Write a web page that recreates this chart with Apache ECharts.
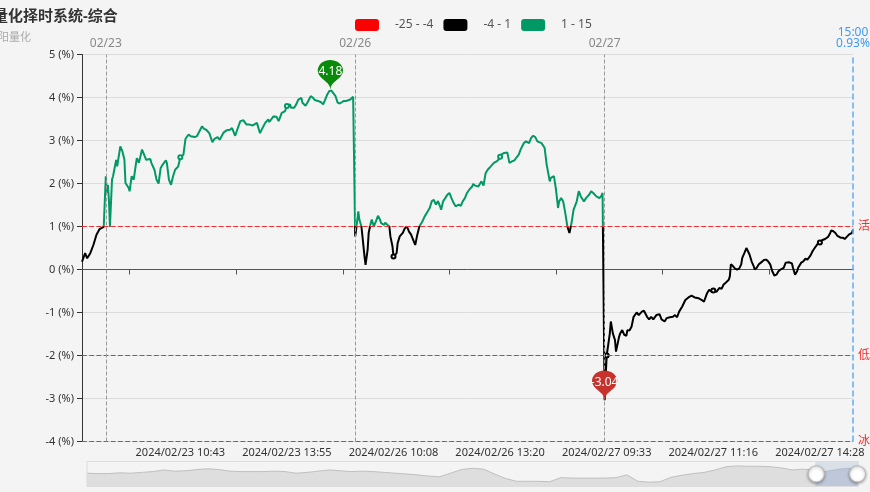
<!DOCTYPE html>
<html><head><meta charset="utf-8">
<script src="https://cdn.jsdelivr.net/npm/echarts@6/dist/echarts.min.js"></script>
<style>html,body{margin:0;padding:0;background:#f4f4f4;}#c{width:870px;height:492px;}</style>
</head><body><div id="c"></div>
<script>
// ---------- data ----------
const titleText = '量化择时系统-综合';
const subText = '阳量化';
const tradeDays = ['2024/02/22', '2024/02/23', '2024/02/26', '2024/02/27'];
const preDayCount = 23;                 // trailing minutes of 2024/02/22 in view
const morningSession = ['09:31', '11:30'];
const afternoonSession = ['13:00', '15:00'];
const firstLabel = '2024/02/23 10:43';
const labelStep = 103;
const tickLead = 49;
const yMin = -4, yMax = 5, yStep = 1;
const pieces = [
  { min: -25, max: -4, color: '#ff0000' },
  { min: -4, max: 1, color: '#000000' },
  { min: 1, max: 15, color: '#009966' }
];
const levelLines = [
  { value: 1, name: '活跃' },
  { value: -2, name: '低迷' },
  { value: -4, name: '冰点' }
];
// [minute offset, value %]
const pre0222 = [[0,0.18],[3,0.38],[5,0.26],[8,0.38],[11,0.57],[14,0.81],[17,0.94],[21,0.99],[22,1.0]];
const day0223 = [[0,2.17],[1,1.78],[2,1.97],[3,1.62],[4,1.0],[6,2.09],[7,2.17],[10,2.55],[11,2.40],[14,2.86],[16,2.75],[18,2.55],[19,2.01],[22,1.90],[23,1.82],[25,2.17],[27,2.09],[29,2.44],[30,2.59],[32,2.48],[35,2.79],[37,2.67],[39,2.55],[43,2.57],[44,2.48],[47,2.32],[49,2.09],[51,2.0],[53,2.36],[55,2.44],[58,2.54],[59,2.48],[61,2.09],[63,1.97],[65,2.17],[67,2.32],[70,2.40],[72,2.61],[75,2.67],[77,3.04],[80,3.14],[82,3.10],[83,3.06],[86,3.08],[88,3.10],[90,3.19],[93,3.33],[95,3.27],[97,3.25],[100,3.17],[103,2.96],[105,3.04],[108,3.08],[110,3.02],[114,3.19],[117,3.24],[120,3.25],[122,3.29],[125,3.11],[127,3.25],[130,3.45],[133,3.47],[136,3.37],[139,3.37],[142,3.35],[146,3.41],[149,3.17],[151,3.27],[154,3.41],[157,3.49],[158,3.43],[162,3.56],[165,3.55],[167,3.45],[170,3.64],[173,3.68],[175,3.80],[178,3.84],[179,3.76],[182,3.76],[184,3.84],[186,3.95],[189,3.99],[190,3.88],[193,3.81],[195,3.89],[198,4.03],[200,4.0],[202,3.94],[205,3.92],[208,3.89],[210,3.84],[212,3.95],[214,4.07],[216,4.15],[217,4.18],[218,4.16],[219,4.12],[222,4.03],[224,3.88],[226,3.86],[228,3.89],[230,3.92],[232,3.92],[235,3.94],[237,3.97],[239,4.02],[240,4.03]];
const day0226 = [[0,0.77],[1,0.95],[3,1.35],[4,1.16],[6,1.0],[7,0.77],[9,0.30],[10,0.11],[12,0.46],[13,0.85],[15,1.08],[16,1.16],[18,1.0],[20,1.12],[22,1.25],[24,1.16],[25,1.08],[28,1.04],[29,1.09],[31,1.04],[33,1.0],[34,0.77],[36,0.54],[37,0.30],[38,0.26],[40,0.38],[41,0.61],[43,0.77],[46,0.85],[48,0.96],[50,1.0],[52,0.88],[54,0.81],[56,0.69],[58,0.57],[60,0.81],[62,1.0],[65,1.12],[67,1.23],[70,1.35],[72,1.43],[74,1.59],[76,1.62],[78,1.51],[80,1.59],[82,1.47],[83,1.39],[85,1.59],[87,1.66],[89,1.74],[91,1.78],[93,1.66],[95,1.55],[97,1.47],[100,1.51],[102,1.48],[104,1.59],[106,1.66],[108,1.78],[110,1.85],[113,1.93],[114,1.99],[116,1.95],[119,1.93],[122,2.05],[124,1.95],[126,2.24],[128,2.32],[131,2.40],[134,2.48],[137,2.52],[139,2.57],[140,2.62],[141,2.67],[144,2.71],[147,2.72],[149,2.48],[152,2.52],[154,2.54],[156,2.61],[158,2.67],[160,2.80],[163,2.94],[165,2.98],[168,2.94],[170,3.06],[172,3.11],[174,3.08],[176,2.98],[180,2.94],[183,2.83],[185,2.44],[188,2.05],[189,2.13],[192,2.17],[194,1.86],[196,1.43],[197,1.58],[199,1.66],[201,1.58],[203,1.31],[205,1.00],[207,0.85],[209,1.08],[211,1.39],[214,1.58],[216,1.82],[218,1.70],[221,1.58],[223,1.66],[226,1.74],[228,1.82],[230,1.78],[233,1.70],[236,1.66],[238,1.72],[239,1.78],[240,1.74]];
const day0227 = [[0,-3.04],[1,-2.5],[2,-2.0],[5,-1.49],[6,-1.21],[8,-1.49],[10,-1.64],[11,-1.91],[12,-1.95],[14,-1.56],[15,-1.49],[17,-1.41],[19,-1.52],[21,-1.54],[22,-1.41],[24,-1.42],[26,-1.33],[28,-1.10],[31,-1.00],[33,-1.06],[36,-0.98],[38,-0.96],[41,-1.10],[43,-1.16],[45,-1.10],[47,-1.16],[50,-1.06],[53,-1.04],[55,-1.16],[58,-1.21],[60,-1.13],[63,-1.11],[66,-1.10],[68,-1.06],[70,-1.11],[72,-0.98],[75,-0.86],[78,-0.71],[81,-0.65],[84,-0.61],[87,-0.65],[91,-0.67],[94,-0.71],[96,-0.75],[99,-0.55],[101,-0.47],[103,-0.51],[105,-0.49],[108,-0.52],[111,-0.43],[113,-0.45],[115,-0.35],[117,-0.31],[120,-0.24],[121,-0.16],[122,0.12],[124,0.08],[126,0.02],[128,0.0],[130,0.02],[132,0.12],[133,0.27],[135,0.38],[137,0.50],[138,0.47],[140,0.35],[142,0.19],[144,0.08],[145,0.0],[147,0.04],[149,0.12],[151,0.16],[154,0.22],[156,0.23],[158,0.19],[160,0.12],[162,-0.04],[164,-0.14],[166,-0.12],[168,-0.04],[170,0.0],[173,0.04],[175,0.16],[178,0.17],[181,0.14],[182,0.04],[184,-0.12],[186,-0.04],[187,0.04],[190,0.16],[192,0.19],[194,0.25],[196,0.23],[199,0.33],[201,0.43],[203,0.50],[206,0.60],[208,0.63],[210,0.68],[211,0.70],[213,0.71],[216,0.76],[218,0.85],[219,0.91],[221,0.89],[223,0.85],[225,0.78],[228,0.74],[230,0.74],[232,0.71],[234,0.76],[236,0.81],[237,0.85],[239,0.85],[240,0.93]];
// longer history shown only as the slider's data shadow
const shadowValues = [2.2,2.1,2.1,2.3,2.2,2.4,2.6,3.0,2.7,2.8,3.1,3.3,3.1,2.7,2.6,2.6,2.6,2.7,2.6,2.2,2.4,2.7,3.0,2.8,2.6,2.7,2.6,2.4,2.2,2.0,1.8,1.5,1.3,2.2,3.1,3.4,3.2,2.0,0.9,0.2,0.2,0.2,0.1,1.1,1.0,1.0,1.0,1.0,1.1,1.8,0.2,0.0,0.1,1.2,1.7,2.1,2.4,3.0,3.8,4.0,3.9,3.9,3.8,3.5,3.0,3.2,2.9,2.6,3.1,3.4,3.0];
const zoomStart = 94.4, zoomEnd = 100;

// ---------- build ----------
function toMin(t){const [h,m]=t.split(':').map(Number);return h*60+m;}
function fmt(m){return String(Math.floor(m/60)).padStart(2,'0')+':'+String(m%60).padStart(2,'0');}
function session(a,b){const r=[];for(let m=toMin(a);m<=toMin(b);m++)r.push(fmt(m));return r;}
const dayTimes = session(...morningSession).concat(session(...afternoonSession));
const categories = [];
tradeDays.forEach((d,k)=>{
  const times = k===0 ? dayTimes.slice(-preDayCount) : dayTimes;
  times.forEach(t=>categories.push(d+' '+t));
});
const dayStart = d => categories.indexOf(d+' '+dayTimes[0]);
const dayBlocks = [[0,pre0222],[dayStart(tradeDays[1]),day0223],[dayStart(tradeDays[2]),day0226],[dayStart(tradeDays[3]),day0227]];
const seriesData = [];
dayBlocks.forEach(([off,arr])=>arr.forEach(([k,v])=>seriesData.push([off+k,v])));
const lastIdx = categories.length-1;
const lastVal = seriesData[seriesData.length-1][1];
const labelIdx = categories.indexOf(firstLabel);
const tickIdx = labelIdx - tickLead;
const showLabel = (i)=>i>=labelIdx && (i-labelIdx)%labelStep===0;

const lvlColor = '#f03030';
const levelMarks = levelLines.map(l=>({yAxis:l.value,label:{formatter:l.name}}));
const dayMarks = tradeDays.slice(1).map(d=>({xAxis:categories[dayStart(d)],label:{formatter:d.slice(5)}}));
const lastMark = [{xAxis:categories[lastIdx],label:{formatter:categories[lastIdx].slice(-5)+'\n'+lastVal.toFixed(2)+'%'}}];

const font = "'Noto Sans','Noto Sans CJK SC',sans-serif";
const chart = echarts.init(document.getElementById('c'), null, {renderer:'canvas'});
chart.setOption({
  animation:false,
  backgroundColor:'#f4f4f4',
  textStyle:{fontFamily:font},
  title:[
    {text:titleText,left:-7,top:9,padding:0,textStyle:{fontSize:15,fontWeight:'bold',color:'#333',fontFamily:font}},
    {text:subText,left:-2,top:32,padding:0,textStyle:{fontSize:11,fontWeight:'normal',color:'#aaa',fontFamily:font}}
  ],
  visualMap:{type:'piecewise',seriesIndex:0,dimension:1,orient:'horizontal',left:340,top:4,itemWidth:24,itemHeight:12,itemGap:10,textGap:16,
    textStyle:{color:'#555',fontSize:12},pieces:pieces},
  grid:{left:82,right:17,top:54.5,bottom:50.5,outerBoundsMode:'none',containLabel:false},
  xAxis:[
    {type:'category',data:categories,boundaryGap:false,
     axisLine:{onZero:true,lineStyle:{color:'#555'}},
     axisTick:{show:true,length:5,interval:(i)=>i>=tickIdx && (i-tickIdx)%labelStep===0,lineStyle:{color:'#555'}},
     axisLabel:{interval:showLabel,color:'rgba(0,0,0,0)',fontSize:11},
     splitLine:{show:false}},
    {type:'value',show:false,min:0,max:shadowValues.length-1},
    {type:'category',data:categories,boundaryGap:false,position:'bottom',
     axisLine:{show:false,onZero:false},axisTick:{show:false},splitLine:{show:false},
     axisLabel:{interval:showLabel,margin:6,color:'#333',fontSize:11}}
  ],
  yAxis:[
    {type:'value',min:yMin,max:yMax,interval:yStep,
     axisLine:{show:true,lineStyle:{color:'#333'}},axisTick:{show:true,lineStyle:{color:'#333'}},
     axisLabel:{formatter:'{value} (%)',color:'#333',fontSize:11},
     splitLine:{lineStyle:{color:'#dcdcdc'}}},
    {type:'value',show:false,scale:true,splitLine:{show:false},axisLine:{show:false},axisTick:{show:false},axisLabel:{show:false}}
  ],
  dataZoom:[{type:'slider',xAxisIndex:1,start:zoomStart,end:zoomEnd,left:84,right:14,bottom:5,height:26,showDetail:false,
    moveHandleSize:0,brushSelect:false,
    borderColor:'#ddd',backgroundColor:'rgba(0,0,0,0)',fillerColor:'rgba(170,185,210,0.35)',
    dataBackground:{lineStyle:{color:'#b5b5b5',width:0.8},areaStyle:{color:'#dedede',opacity:1}},
    selectedDataBackground:{lineStyle:{color:'#a9b3c3',width:0.8},areaStyle:{color:'#c9d0dc',opacity:1}},
    handleIcon:'circle',handleSize:'62%',
    handleStyle:{color:'#fff',borderColor:'#bbb',borderWidth:1,shadowBlur:3,shadowColor:'rgba(0,0,0,0.35)',shadowOffsetY:1}}],
  series:[
    {type:'line',xAxisIndex:0,yAxisIndex:0,data:seriesData,symbol:'emptyCircle',symbolSize:4,showAllSymbol:'auto',
     lineStyle:{width:2},
     markPoint:{symbol:'pin',symbolSize:[42,34],label:{color:'#fff',fontSize:12},
       data:[{type:'max',itemStyle:{color:'#0a8a0a'}},{type:'min',itemStyle:{color:'#c8322d'}}]}},
    {type:'line',xAxisIndex:1,yAxisIndex:1,data:shadowValues.map((v,i)=>[i,v]),showSymbol:false,silent:true,lineStyle:{opacity:0},z:0},
    {type:'line',xAxisIndex:0,yAxisIndex:0,data:[],silent:true,z:5,
     markLine:{symbol:['none','none'],silent:true,lineStyle:{color:lvlColor,type:'dashed',width:1.2,opacity:1},
       label:{position:'end',color:lvlColor,fontSize:12},data:levelMarks}},
    {type:'line',xAxisIndex:0,yAxisIndex:0,data:[],silent:true,
     markLine:{symbol:['none','none'],silent:true,lineStyle:{color:'#999',type:'dashed',width:1},
       label:{position:'end',color:'#888',fontSize:12},data:dayMarks}},
    {type:'line',xAxisIndex:0,yAxisIndex:0,data:[],silent:true,
     markLine:{symbol:['none','none'],silent:true,lineStyle:{color:'#5eacf5',type:'dashed',width:1.5},
       label:{position:'end',color:'#3d9bf2',fontSize:12,lineHeight:11},data:lastMark}}
  ]
});
</script></body></html>
